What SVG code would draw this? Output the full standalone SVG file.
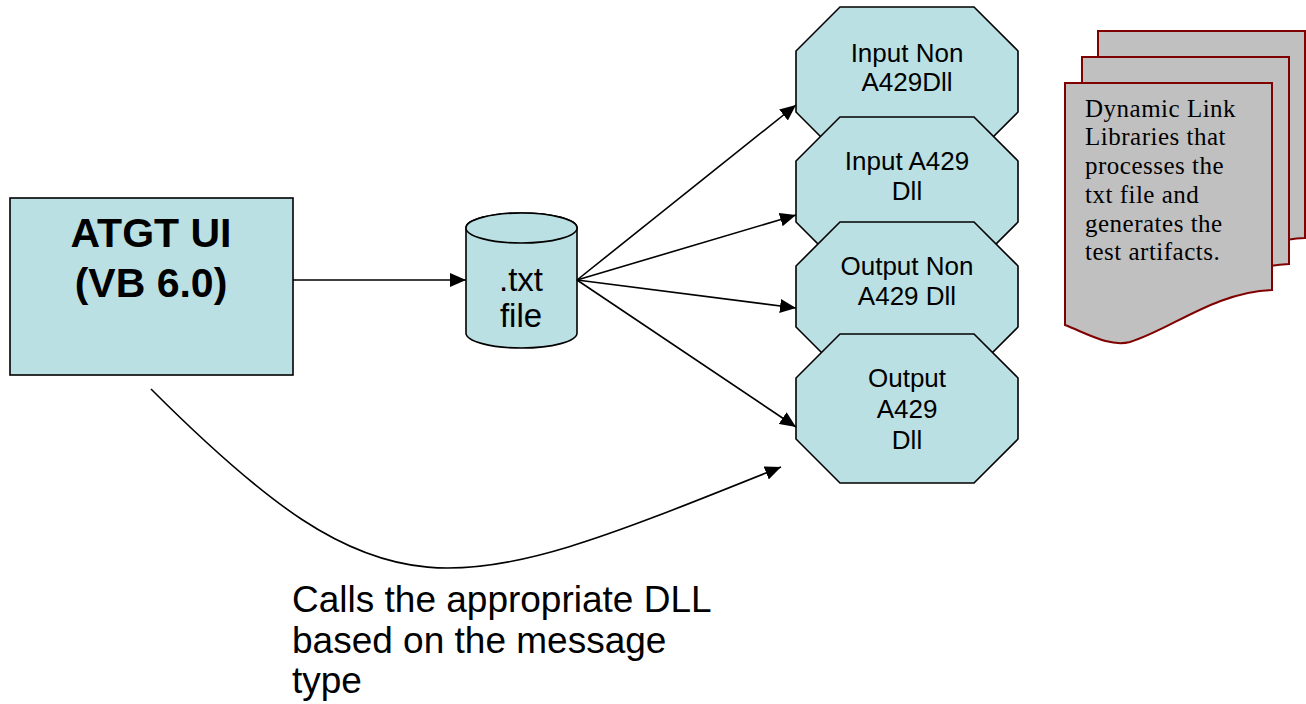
<svg xmlns="http://www.w3.org/2000/svg" width="1306" height="704" viewBox="0 0 1306 704">
  <style>
    .shape { fill: #BBE0E3; stroke: #000; stroke-width: 1.6; }
    .page { fill: #C0C0C0; stroke: #800000; stroke-width: 2; }
    .lbl { font-family: "Liberation Sans", Arial, sans-serif; fill: #000; text-anchor: middle; }
    .oct { font-size: 26px; }
    .serif { font-family: "Liberation Serif", "Times New Roman", serif; font-size: 25px; letter-spacing: 0.5px; fill: #000; }
    .cap { font-family: "Liberation Sans", Arial, sans-serif; font-size: 37px; fill: #000; }
    .conn { fill: none; stroke: #000; stroke-width: 1.6; marker-end: url(#arrow); }
  </style>
  <defs>
    <marker id="arrow" viewBox="0 0 16 14" refX="16" refY="7" markerWidth="16" markerHeight="14" markerUnits="userSpaceOnUse" orient="auto">
      <path d="M0,0 L16,7 L0,14 z" fill="#000"/>
    </marker>
    <clipPath id="cylText">
      <rect x="466" y="240" width="110" height="89"/>
    </clipPath>
    <path id="docPage" d="M1065,83 H1272 V290 C1215,292 1170,330 1130,342 C1110,347 1090,335 1065,325 Z"/>
  </defs>

  <!-- ATGT UI box -->
  <g id="atgt-ui">
    <rect class="shape" x="10" y="198" width="283" height="177"/>
    <text class="lbl" x="151" y="247" font-size="41" font-weight="bold">ATGT UI</text>
    <text class="lbl" x="151" y="297" font-size="41" font-weight="bold">(VB 6.0)</text>
  </g>

  <!-- .txt file cylinder -->
  <g id="txt-file">
    <path class="shape" d="M466,228 V333 A55.5,15 0 0 0 577,333 V228 A55.5,15 0 0 0 466,228 Z"/>
    <ellipse class="shape" cx="521.5" cy="228" rx="55.5" ry="15"/>
    <g clip-path="url(#cylText)">
      <text class="lbl" x="521" y="291" font-size="33">.txt</text>
      <text class="lbl" x="521" y="327" font-size="33">file</text>
    </g>
  </g>

  <!-- DLL octagons, later ones drawn on top -->
  <g id="input-non-a429">
    <polygon class="shape" points="840,7 974,7 1018,51 1018,112 974,156 840,156 796,112 796,51"/>
    <text class="lbl oct" x="907" y="62">Input Non</text>
    <text class="lbl oct" x="907" y="91">A429Dll</text>
  </g>
  <g id="input-a429">
    <polygon class="shape" points="840,117 974,117 1018,161 1018,222 974,266 840,266 796,222 796,161"/>
    <text class="lbl oct" x="907" y="170">Input A429</text>
    <text class="lbl oct" x="907" y="200">Dll</text>
  </g>
  <g id="output-non-a429">
    <polygon class="shape" points="840,222 974,222 1018,266 1018,327 974,371 840,371 796,327 796,266"/>
    <text class="lbl oct" x="907" y="275">Output Non</text>
    <text class="lbl oct" x="907" y="305">A429 Dll</text>
  </g>
  <g id="output-a429">
    <polygon class="shape" points="840,334 974,334 1018,378 1018,439 974,483 840,483 796,439 796,378"/>
    <text class="lbl oct" x="907" y="387">Output</text>
    <text class="lbl oct" x="907" y="418">A429</text>
    <text class="lbl oct" x="907" y="449">Dll</text>
  </g>

  <!-- Stacked document note -->
  <g id="dll-note">
    <use href="#docPage" class="page" transform="translate(33,-52)"/>
    <use href="#docPage" class="page" transform="translate(17,-26)"/>
    <use href="#docPage" class="page"/>
    <text class="serif" x="1085" y="117">Dynamic Link</text>
    <text class="serif" x="1085" y="145">Libraries that</text>
    <text class="serif" x="1085" y="174">processes the</text>
    <text class="serif" x="1085" y="203">txt file and</text>
    <text class="serif" x="1085" y="232">generates the</text>
    <text class="serif" x="1085" y="260">test artifacts.</text>
  </g>

  <!-- Caption under the call curve -->
  <g id="caption">
    <text class="cap" x="292" y="612">Calls the appropriate DLL</text>
    <text class="cap" x="292" y="653">based on the message</text>
    <text class="cap" x="292" y="693">type</text>
  </g>

  <!-- Connectors -->
  <g id="connectors">
    <line class="conn" x1="293" y1="280" x2="466" y2="280"/>
    <line class="conn" x1="577" y1="280" x2="796" y2="105"/>
    <line class="conn" x1="577" y1="280" x2="796" y2="215"/>
    <line class="conn" x1="577" y1="280" x2="796" y2="308"/>
    <line class="conn" x1="577" y1="280" x2="796" y2="427"/>
    <path class="conn" d="M151,389 C391,629 451,599 781,467"/>
  </g>
</svg>
